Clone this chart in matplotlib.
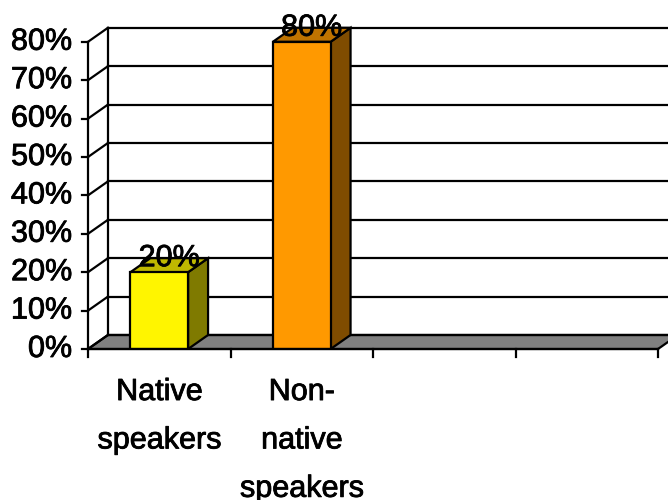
import matplotlib
matplotlib.use("Agg")
import matplotlib.pyplot as plt
import matplotlib.patheffects as pe
from matplotlib.patches import Polygon

plt.rcParams["font.family"] = ["Liberation Sans", "DejaVu Sans"]

# data
categories = ["Native\nspeakers", "Non-\nnative\nspeakers", "", ""]
values = [20, 80]
value_labels = ["20%", "80%"]
y_ticks = [0, 10, 20, 30, 40, 50, 60, 70, 80]
y_tick_labels = [f"{v}%" for v in y_ticks]

front_colors = ["#FFF500", "#FF9900"]
side_colors = ["#7F7A00", "#7F4C00"]
top_colors = ["#BFB800", "#BF7300"]

# depth offset of the fake 3d walls, in data units
DX = 0.14
DY = 3.65
BAR_W = 0.405
LW = 1.6
FS = 22
heavy = [pe.withStroke(linewidth=0.6, foreground="black")]

fig = plt.figure(figsize=(6.68, 5.0), dpi=100)
ax = fig.add_axes([88 / 668, 151 / 500, 580 / 668, 349 / 500])
ax.set_xlim(0, 580 / 142.5)
ax.set_ylim(0, 349 / 3.84)
ax.axis("off")

n_cat = len(categories)
x_end = ax.get_xlim()[1] + 0.5
top = y_ticks[-1]

# back wall gridlines and left wall diagonals
for v in y_ticks:
    ax.plot([DX, x_end], [v + DY, v + DY], color="black", lw=LW, clip_on=False)
    ax.plot([0, DX], [v, v + DY], color="black", lw=LW, clip_on=False)
    ax.plot([-0.042, 0], [v, v], color="black", lw=LW, clip_on=False)
ax.plot([DX, DX], [DY, top + DY], color="black", lw=LW, clip_on=False)

# floor
floor = Polygon([(0, 0), (n_cat, 0), (n_cat + DX, DY), (DX, DY)],
                closed=True, facecolor="#808080", edgecolor="black", lw=LW, clip_on=False)
ax.add_patch(floor)

# bars
centers = [i + 0.5 for i in range(len(values))]
for c, v, fc, sc, tc in zip(centers, values, front_colors, side_colors, top_colors):
    r = c + BAR_W / 2
    l = c - BAR_W / 2
    ax.add_patch(Polygon([(r, 0), (r + DX, DY), (r + DX, v + DY), (r, v)],
                         closed=True, facecolor=sc, edgecolor="black", lw=LW, zorder=3))
    ax.add_patch(Polygon([(l, v), (r, v), (r + DX, v + DY), (l + DX, v + DY)],
                         closed=True, facecolor=tc, edgecolor="black", lw=LW, zorder=3))
ax.bar(centers, values, width=BAR_W, color=front_colors, edgecolor="black", lw=LW, zorder=4)

for c, v, lab in zip(centers, values, value_labels):
    ax.text(c + DX / 2, v + DY, lab, ha="center", va="center", fontsize=FS, zorder=5,
            path_effects=heavy)

# front axes
ax.plot([0, 0], [0, top], color="black", lw=LW, clip_on=False, zorder=5)
ax.plot([0, n_cat], [0, 0], color="black", lw=LW, clip_on=False, zorder=5)
for i in range(n_cat + 1):
    ax.plot([i, i], [0, -2.1], color="black", lw=LW, clip_on=False)

for v, lab in zip(y_ticks, y_tick_labels):
    ax.text(-0.11, v, lab, ha="right", va="center", fontsize=FS, clip_on=False,
            path_effects=heavy)

for i, lab in enumerate(categories):
    ax.text(i + 0.5, -7.3, lab, ha="center", va="top", fontsize=FS,
            linespacing=1.8, clip_on=False, path_effects=heavy)

fig.savefig("out.png", dpi=100)
